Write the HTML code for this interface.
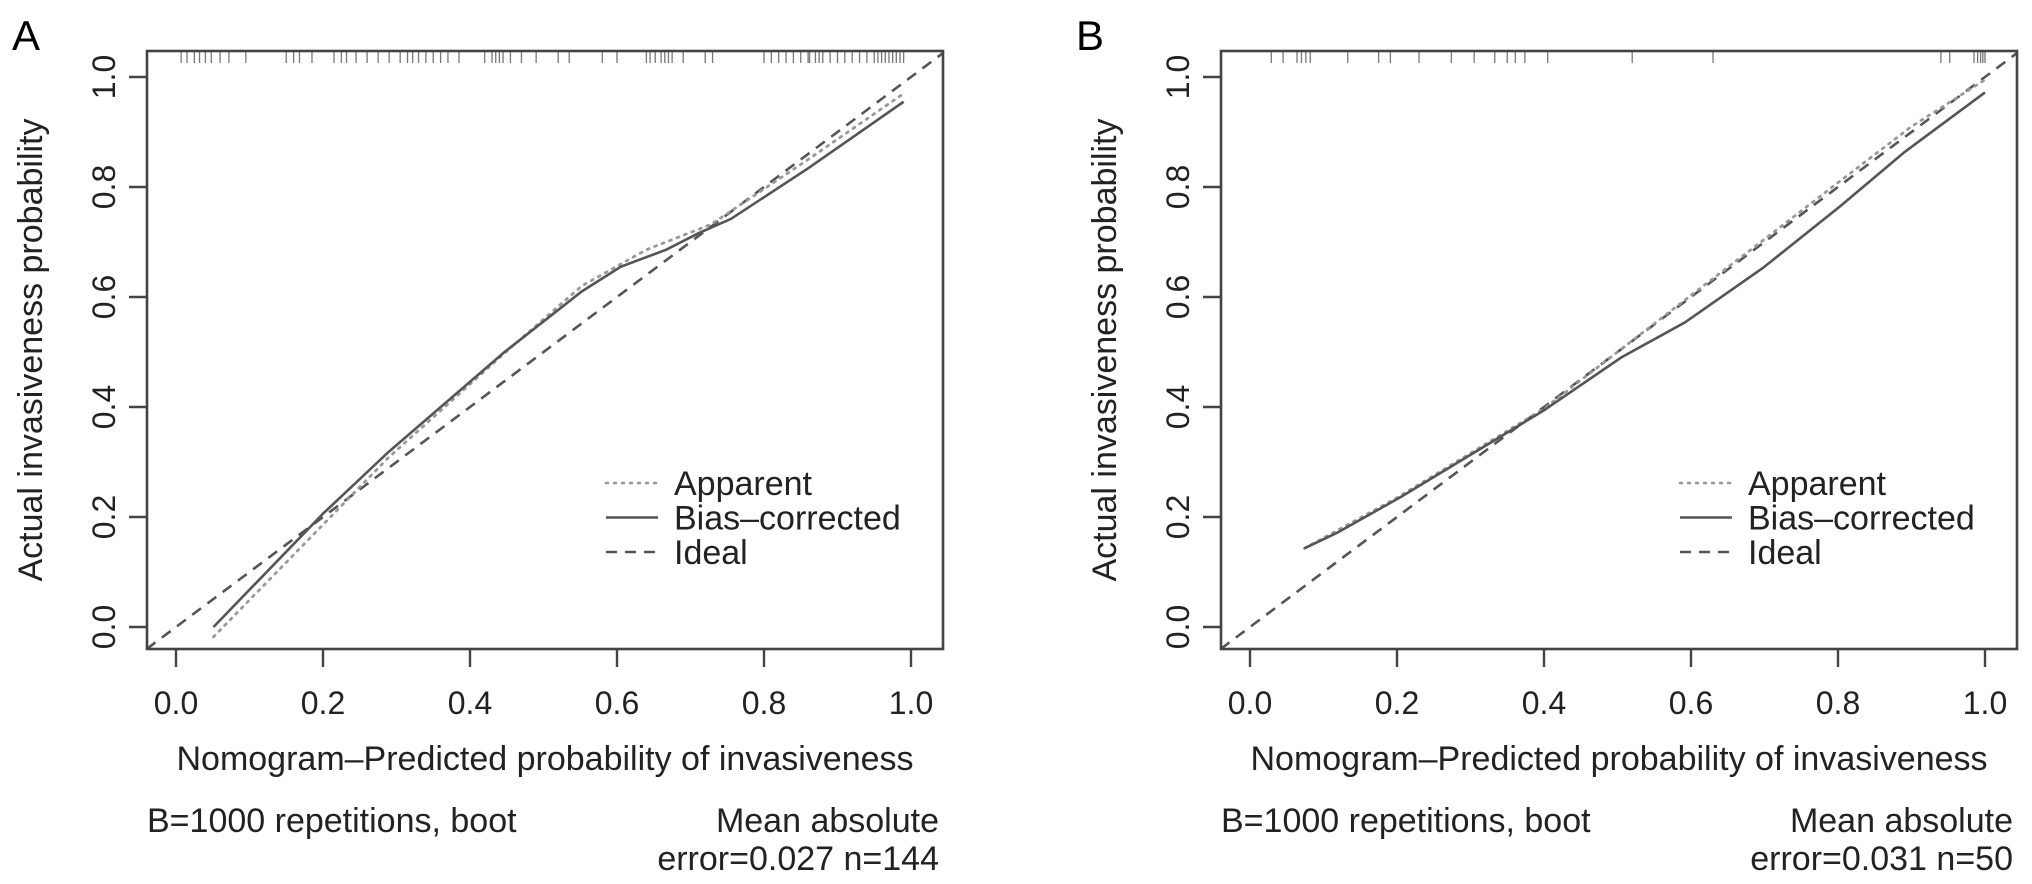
<!DOCTYPE html>
<html><head><meta charset="utf-8"><style>
html,body{margin:0;padding:0;background:#fff;}
svg{display:block;font-family:"Liberation Sans",Arial,sans-serif;}
</style></head><body>
<svg id="fig" width="2032" height="884" viewBox="0 0 2032 884"></svg>
<script>
const ticks = [0, 0.2, 0.4, 0.6, 0.8, 1.0];
const tickLabels = ["0.0","0.2","0.4","0.6","0.8","1.0"];
const rugA = [0.007,0.015,0.025,0.032,0.04,0.048,0.06,0.072,0.095,0.15,0.16,0.168,0.185,0.215,0.225,0.232,0.245,0.26,0.275,0.29,0.305,0.315,0.322,0.33,0.34,0.35,0.36,0.37,0.385,0.42,0.43,0.435,0.44,0.445,0.455,0.47,0.49,0.52,0.535,0.58,0.6,0.64,0.645,0.652,0.66,0.665,0.67,0.675,0.69,0.72,0.73,0.8,0.81,0.82,0.83,0.84,0.85,0.86,0.862,0.87,0.875,0.88,0.89,0.9,0.91,0.92,0.93,0.94,0.95,0.955,0.96,0.965,0.97,0.975,0.98,0.985,0.99];
const rugB = [0.029,0.045,0.064,0.07,0.076,0.082,0.133,0.175,0.191,0.23,0.274,0.305,0.333,0.35,0.361,0.374,0.405,0.52,0.63,0.94,0.952,0.985,0.99,0.994,0.997,1.0];
const appAx = [0.051,0.2,0.289,0.447,0.552,0.64,0.728,0.86,0.99];
const appAy = [-0.018,0.186,0.308,0.498,0.62,0.686,0.732,0.85,0.97];
const bcAx = [0.051,0.2,0.289,0.447,0.552,0.605,0.667,0.711,0.755,0.86,0.99];
const bcAy = [0.0,0.206,0.318,0.5,0.61,0.655,0.686,0.716,0.742,0.834,0.955];
const appBx = [0.074,0.2,0.4,0.5,0.6,0.7,0.8,0.9,1.0];
const appBy = [0.143,0.235,0.397,0.5,0.603,0.705,0.808,0.91,0.995];
const bcBx = [0.074,0.118,0.206,0.4,0.505,0.592,0.698,0.803,0.891,1.0];
const bcBy = [0.143,0.171,0.237,0.394,0.49,0.554,0.653,0.765,0.864,0.972];
const idealX = [-0.04,1.05];
const panels = [
 {letter:"A", off:0, appX:appAx, appY:appAy, bcX:bcAx, bcY:bcAy, rug:rugA, err:"error=0.027 n=144"},
 {letter:"B", off:1074, appX:appBx, appY:appBy, bcX:bcBx, bcY:bcBy, rug:rugB, err:"error=0.031 n=50"}
];
const NS="http://www.w3.org/2000/svg";
const svg=document.getElementById('fig');
function mk(tag,attrs,parent,text){const e=document.createElementNS(NS,tag);for(const k in attrs)e.setAttribute(k,attrs[k]);if(text!==undefined)e.textContent=text;(parent||svg).appendChild(e);return e;}
panels.forEach((p,pi)=>{
 const L=147+p.off,R=943+p.off,T=51,B=649;
 const x0=176+p.off, xs=735, y0=627, ys=550;
 const sx=v=>x0+v*xs, sy=v=>y0-v*ys;
 const g=mk('g',{});
 
 
 const cp=mk('clipPath',{id:'clip'+pi},g);mk('rect',{x:L,y:T,width:R-L,height:B-T},cp);
 const lt=mk('text',{x:12+p.off*0.96+(pi?33:0),y:50,'font-size':42},g,p.letter);
 
 const id=mk('line',{x1:sx(idealX[0]),y1:sy(idealX[0]),x2:sx(idealX[1]),y2:sy(idealX[1]),stroke:'#555','stroke-width':2.6,'stroke-dasharray':'11,8','clip-path':'url(#clip'+pi+')'},g);
 
 const ap=mk('polyline',{points:p.appX.map((v,i)=>sx(v)+','+sy(p.appY[i])).join(' '),fill:'none',stroke:'#999','stroke-width':2.8,'stroke-dasharray':'2,6','stroke-linecap':'round'},g);
 
 const bc=mk('polyline',{points:p.bcX.map((v,i)=>sx(v)+','+sy(p.bcY[i])).join(' '),fill:'none',stroke:'#555','stroke-width':2.6},g);
 
 p.rug.forEach(v=>{const r=mk('line',{x1:sx(v),x2:sx(v),y1:T,y2:T+12,stroke:'#777','stroke-width':1.3},g);
  });
 const box=mk('rect',{x:L,y:T,width:R-L,height:B-T,fill:'none',stroke:'#444','stroke-width':2.6},g);
 
 ticks.forEach((t,i)=>{
  mk('line',{x1:sx(t),x2:sx(t),y1:B,y2:B+18,stroke:'#444','stroke-width':2.4},g);
  const xl=mk('text',{x:sx(t),y:714,'font-size':32,'text-anchor':'middle',fill:'#222'},g,tickLabels[i]);
  
  mk('line',{x1:L-18,x2:L,y1:sy(t),y2:sy(t),stroke:'#444','stroke-width':2.4},g);
  const yl=mk('text',{x:0,y:0,'font-size':32,'text-anchor':'middle',fill:'#222',transform:'translate('+(115+p.off)+','+sy(t)+') rotate(-90)'},g,tickLabels[i]);
  
 });
 const xt=mk('text',{x:(L+R)/2,y:770,'font-size':34,'text-anchor':'middle',fill:'#222'},g,'Nomogram\u2013Predicted probability of invasiveness');
 
 const yt=mk('text',{x:0,y:0,'font-size':34,'text-anchor':'middle',fill:'#222',transform:'translate('+(42+p.off)+','+((T+B)/2)+') rotate(-90)'},g,'Actual invasiveness probability');
 
 const s1=mk('text',{x:L,y:832,'font-size':34,fill:'#222'},g,'B=1000 repetitions, boot');
 
 const s2=mk('text',{x:R-4,y:832,'font-size':34,'text-anchor':'end',fill:'#222'},g,'Mean absolute');
 
 const s3=mk('text',{x:R-4,y:870,'font-size':34,'text-anchor':'end',fill:'#222'},g,p.err);
 
 const lg=mk('g',{},g);
 
 const lx=606+p.off, tx=674+p.off;
 const rows=[['Apparent','#999','2,6'],['Bias\u2013corrected','#555',''],['Ideal','#555','11,8']];
 rows.forEach((r,i)=>{const y=483+i*34.5;
  const ln=mk('line',{x1:lx,x2:lx+52,y1:y,y2:y,stroke:r[1],'stroke-width':2.6,'stroke-dasharray':r[2],'stroke-linecap':i==0?'round':'butt'},lg);
  
  const tt=mk('text',{x:tx,y:y+12,'font-size':34,fill:'#222'},lg,r[0]);
  
 });
});
</script>
</body></html>
